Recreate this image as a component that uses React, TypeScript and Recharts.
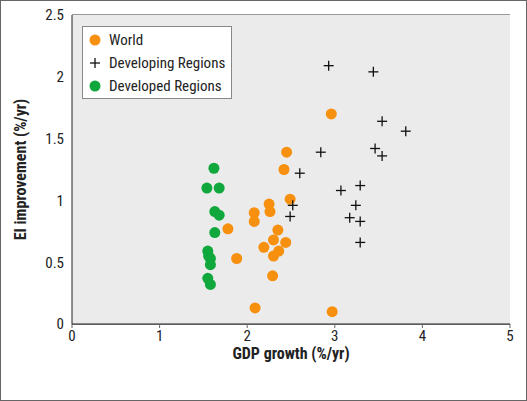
import { CartesianGrid, Scatter, ScatterChart, XAxis, YAxis, Label } from "recharts";

const world = [
  [2.96, 1.7], [2.45, 1.39], [2.42, 1.25], [2.49, 1.01], [2.25, 0.97], [2.26, 0.91],
  [2.08, 0.9], [2.08, 0.83], [1.78, 0.77], [2.35, 0.76], [2.3, 0.68], [2.44, 0.66],
  [2.19, 0.62], [2.36, 0.59], [2.3, 0.55], [1.88, 0.53], [2.29, 0.39], [2.09, 0.13], [2.97, 0.1],
].map(([x, y]) => ({ x, y }));

const developing = [
  [2.93, 2.09], [3.44, 2.04], [3.54, 1.64], [3.81, 1.56], [2.84, 1.39], [3.46, 1.42],
  [3.54, 1.36], [2.6, 1.22], [3.07, 1.08], [3.29, 1.12], [3.24, 0.96], [2.52, 0.96],
  [2.49, 0.87], [3.17, 0.86], [3.29, 0.83], [3.29, 0.66],
].map(([x, y]) => ({ x, y }));

const developed = [
  [1.62, 1.26], [1.54, 1.1], [1.68, 1.1], [1.63, 0.91], [1.68, 0.88], [1.63, 0.74],
  [1.55, 0.59], [1.56, 0.55], [1.58, 0.53], [1.58, 0.48], [1.55, 0.37], [1.58, 0.32],
].map(([x, y]) => ({ x, y }));

const xTicks = [0, 1, 2, 3, 4, 5];
const yTicks = [0, 0.5, 1, 1.5, 2, 2.5];

const font = "'Liberation Sans Narrow', 'Roboto Condensed', Arial, sans-serif";

const Dot = (color: string) => (p: any) => <circle cx={p.cx} cy={p.cy} r={5.5} fill={color} />;
const Cross = (p: any) => (
  <g stroke="#111" strokeWidth={1.3}>
    <line x1={p.cx - 5} x2={p.cx + 5} y1={p.cy} y2={p.cy} />
    <line x1={p.cx} x2={p.cx} y1={p.cy - 5} y2={p.cy + 5} />
  </g>
);

export default function App() {
  return (
    <div style={{ position: "fixed", left: 0, top: 0, width: 527, height: 401, background: "#fff", fontFamily: font }}>
      <div style={{ position: "absolute", left: 0, top: 0, width: 525, height: 399, border: "1px solid #666" }} />
      <ScatterChart width={527} height={401} margin={{ top: 15, right: 17, left: 0, bottom: 0 }}>
        <rect x={72} y={15} width={438} height={309} fill="#ebebeb" />
        <CartesianGrid vertical={false} stroke="#333" fill="#ebebeb" />
        <XAxis type="number" dataKey="x" domain={[0, 5]} ticks={xTicks} height={77}
          tick={{ fontSize: 15, fill: "#222", fontFamily: font }} stroke="#222" tickLine={{ stroke: "#666" }} tickSize={4}>
          <Label value="GDP growth (%/yr)" position="insideTop" offset={24} style={{ fontSize: 16, fontWeight: "bold", fill: "#222", fontFamily: font }} />
        </XAxis>
        <YAxis type="number" dataKey="y" domain={[0, 2.5]} ticks={yTicks} width={72}
          tick={{ fontSize: 15, fill: "#222", fontFamily: font }} stroke="#222" tickLine={false}>
          <Label value="EI improvement (%/yr)" angle={-90} position="insideLeft" offset={20} style={{ fontSize: 16, fontWeight: "bold", fill: "#222", textAnchor: "middle", fontFamily: font }} />
        </YAxis>
        <Scatter data={developed} shape={Dot("#10a83c")} isAnimationActive={false} />
        <Scatter data={world} shape={Dot("#f7900e")} isAnimationActive={false} />
        <Scatter data={developing} shape={Cross} isAnimationActive={false} />
      </ScatterChart>
      <div style={{ position: "absolute", left: 82, top: 26, width: 148, height: 71, background: "#fff", border: "1px solid #888", fontSize: 15, color: "#222" }}>
        {[["World", "dot", "#f7900e"], ["Developing Regions", "cross", "#111"], ["Developed Regions", "dot", "#10a83c"]].map(([t, k, c], i) => (
          <div key={i} style={{ position: "absolute", left: 5, top: 3 + i * 23, display: "flex", alignItems: "center", height: 20 }}>
            <svg width={14} height={14} style={{ marginRight: 7 }}>
              {k === "dot" ? <circle cx={7} cy={7} r={5.5} fill={c} /> :
                <g stroke={c} strokeWidth={1.3}><line x1={2} x2={12} y1={7} y2={7} /><line x1={7} x2={7} y1={2} y2={12} /></g>}
            </svg>
            {t}
          </div>
        ))}
      </div>
    </div>
  );
}
